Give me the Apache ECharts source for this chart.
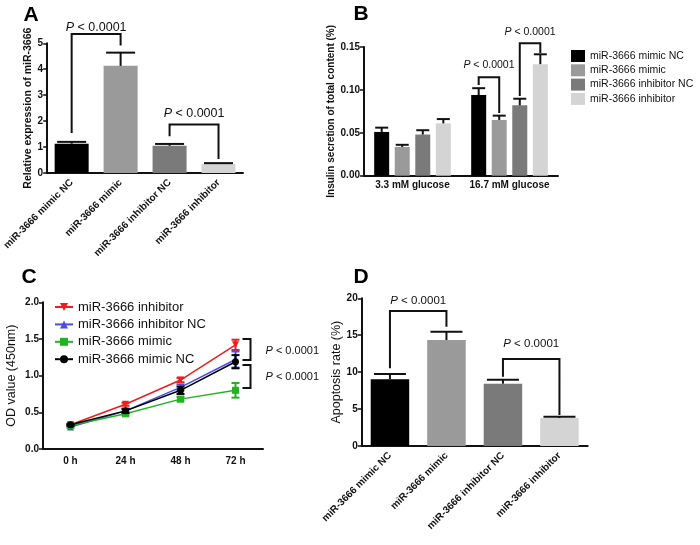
<!DOCTYPE html>
<html><head><meta charset="utf-8">
<script src="https://cdn.jsdelivr.net/npm/echarts@6/dist/echarts.min.js"></script>
<style>html,body{margin:0;padding:0;background:#fff}#c{width:700px;height:545px}</style>
</head><body><div id="c"></div>
<script>
// ---------- DATA ----------
const catsA = ['miR-3666 mimic NC', 'miR-3666 mimic', 'miR-3666 inhibitor NC', 'miR-3666 inhibitor'];
const valA = [1.13, 4.13, 1.05, 0.35];
const semA = [0.07, 0.51, 0.07, 0.03];
// [cat1, y1, cat2, y2, yTop, yText]
const bracketsA = [[0, 1.54, 1, 4.92, 5.36, 5.62], [2, 1.42, 3, 0.54, 1.87, 2.31]];

const catsB = ['3.3 mM glucose', '16.7 mM glucose'];
const namesB = ['miR-3666 mimic NC', 'miR-3666 mimic', 'miR-3666 inhibitor NC', 'miR-3666 inhibitor'];
const valB_mimicNC = [0.051, 0.094];
const valB_mimic = [0.0335, 0.065];
const valB_inhNC = [0.048, 0.082];
const valB_inh = [0.061, 0.130];
const semB_mimicNC = [0.005, 0.008];
const semB_mimic = [0.0025, 0.005];
const semB_inhNC = [0.005, 0.0077];
const semB_inh = [0.005, 0.0115];
// [cat, bar1, y1, bar2, y2, yTop, yText]
const bracketsB = [[1, 0, 0.1057, 1, 0.0731, 0.1147, 0.129], [1, 2, 0.0929, 3, 0.143, 0.1543, 0.1678]];

const catsC = ['0 h', '24 h', '48 h', '72 h'];
const namesC = ['miR-3666 inhibitor', 'miR-3666 inhibitor NC', 'miR-3666 mimic', 'miR-3666 mimic NC'];
const valC_inh = [0.33, 0.61, 0.94, 1.42];
const valC_inhNC = [0.30, 0.52, 0.84, 1.22];
const valC_mimic = [0.32, 0.48, 0.68, 0.80];
const valC_mimicNC = [0.33, 0.52, 0.80, 1.19];
const semC_inh = [0.01, 0.02, 0.03, 0.07];
const semC_inhNC = [0.01, 0.02, 0.04, 0.11];
const semC_mimic = [0.01, 0.02, 0.03, 0.10];
const semC_mimicNC = [0.01, 0.03, 0.05, 0.09];
// [cat, yTop, yBottom, yText]
const bracketsC = [[3, 1.50, 1.213, 1.336], [3, 1.145, 0.83, 0.986]];

const catsD = ['miR-3666 mimic NC', 'miR-3666 mimic', 'miR-3666 inhibitor NC', 'miR-3666 inhibitor'];
const valD = [9.03, 14.35, 8.44, 3.79];
const semD = [0.72, 1.13, 0.54, 0.18];
const bracketsD = [[0, 10.52, 1, 16.15, 18.28, 19.67], [2, 9.38, 3, 4.2, 11.78, 13.9]];

const pText = 'P < 0.0001';

// ---------- STYLE ----------
const FF = '"Liberation Sans", Arial, sans-serif';
const grays = ['#000000', '#9a9a9a', '#7a7a7a', '#d4d4d4'];
const colC = ['#ee1c1c', '#4b4be6', '#22b322', '#000000'];
const symC = ['path://M0,0L10,0L5,9Z', 'triangle', 'rect', 'circle'];
const ink = '#111';
const BW_B = 15, GAP_B = 0.37;

function pLabel(fs) {
  const t = pText.replace(/^P/, '');
  return { text: '{i|P}' + t, rich: { i: { fontStyle: 'italic', fontSize: fs, fontFamily: FF, fill: ink } }, fontSize: fs, fontFamily: FF, fill: ink };
}

function xCat(grid, data, rotate, margin) {
  return { gridIndex: grid, type: 'category', data: data,
    axisLine: { lineStyle: { color: ink, width: 2 } },
    axisTick: { alignWithLabel: true, length: 4, lineStyle: { color: ink, width: 1.5 } },
    axisLabel: { rotate: rotate, margin: margin, interval: 0, fontSize: 10, fontWeight: 'bold', color: ink, fontFamily: FF } };
}
function yVal(grid, max, interval, dec, name, gap, nfs, nfw) {
  return { gridIndex: grid, type: 'value', min: 0, max: max, interval: interval,
    name: name, nameLocation: 'middle', nameGap: gap, nameRotate: 90,
    nameTextStyle: { fontSize: nfs, fontWeight: nfw, fontFamily: FF, color: ink },
    axisLine: { show: true, lineStyle: { color: ink, width: 2 } },
    axisTick: { show: true, length: 4, lineStyle: { color: ink, width: 1.5 } },
    splitLine: { show: false },
    axisLabel: { margin: 4, fontSize: 10, fontWeight: 'bold', color: ink, fontFamily: FF,
      formatter: v => v.toFixed(dec) } };
}

function barErr(capW, offFn) {
  return function (params, api) {
    const c = api.value(0), v = api.value(1), e = api.value(2), s = api.value(3);
    const off = offFn ? offFn(s) : 0;
    const p0 = api.coord([c, v]), p1 = api.coord([c, e]);
    const x = p0[0] + off;
    const st = { stroke: ink, lineWidth: 2 };
    return { type: 'group', children: [
      { type: 'line', shape: { x1: x, y1: p0[1], x2: x, y2: p1[1] }, style: st },
      { type: 'line', shape: { x1: x - capW / 2, y1: p1[1], x2: x + capW / 2, y2: p1[1] }, style: st }
    ] };
  };
}
function lineErr(color) {
  return function (params, api) {
    const c = api.value(0), lo = api.value(1), hi = api.value(2);
    const p0 = api.coord([c, lo]), p1 = api.coord([c, hi]);
    const st = { stroke: color, lineWidth: 2 };
    const w = 4;
    return { type: 'group', children: [
      { type: 'line', shape: { x1: p0[0], y1: p0[1], x2: p1[0], y2: p1[1] }, style: st },
      { type: 'line', shape: { x1: p0[0] - w, y1: p0[1], x2: p0[0] + w, y2: p0[1] }, style: st },
      { type: 'line', shape: { x1: p1[0] - w, y1: p1[1], x2: p1[0] + w, y2: p1[1] }, style: st }
    ] };
  };
}
function bracketAD(fs) {
  return function (params, api) {
    const c1 = api.value(0), y1 = api.value(1), c2 = api.value(2), y2 = api.value(3), yt = api.value(4), ytx = api.value(5);
    const a = api.coord([c1, y1]), b = api.coord([c1, yt]), c = api.coord([c2, yt]), d = api.coord([c2, y2]);
    const ty = api.coord([c1, ytx])[1];
    return { type: 'group', children: [
      { type: 'polyline', shape: { points: [a, b, c, d] }, style: { stroke: ink, lineWidth: 2, fill: null } },
      { type: 'text', x: (b[0] + c[0]) / 2, y: ty, style: Object.assign(pLabel(fs), { align: 'center', verticalAlign: 'middle' }) }
    ] };
  };
}
const offB = s => (s - 1.5) * BW_B * (1 + GAP_B);
function bracketB(fs) {
  return function (params, api) {
    const cat = api.value(0), s1 = api.value(1), y1 = api.value(2), s2 = api.value(3), y2 = api.value(4), yt = api.value(5), ytx = api.value(6);
    const a = api.coord([cat, y1]), b = api.coord([cat, yt]), d = api.coord([cat, y2]);
    const x1 = a[0] + offB(s1), x2 = a[0] + offB(s2);
    const ty = api.coord([cat, ytx])[1];
    return { type: 'group', children: [
      { type: 'polyline', shape: { points: [[x1, a[1]], [x1, b[1]], [x2, b[1]], [x2, d[1]]] }, style: { stroke: ink, lineWidth: 2, fill: null } },
      { type: 'text', x: (x1 + x2) / 2, y: ty, style: Object.assign(pLabel(fs), { align: 'center', verticalAlign: 'middle' }) }
    ] };
  };
}
function bracketC(fs) {
  return function (params, api) {
    const cat = api.value(0), yt = api.value(1), yb = api.value(2), ytx = api.value(3);
    const a = api.coord([cat, yt]), b = api.coord([cat, yb]);
    const xa = a[0] + 7, xb = a[0] + 15;
    const ty = api.coord([cat, ytx])[1];
    return { type: 'group', children: [
      { type: 'polyline', shape: { points: [[xa, a[1]], [xb, a[1]], [xb, b[1]], [xa, b[1]]] }, style: { stroke: ink, lineWidth: 2, fill: null } },
      { type: 'text', x: a[0] + 30, y: ty, style: Object.assign(pLabel(fs), { align: 'left', verticalAlign: 'middle' }) }
    ] };
  };
}

const valsB = [valB_mimicNC, valB_mimic, valB_inhNC, valB_inh];
const semsB = [semB_mimicNC, semB_mimic, semB_inhNC, semB_inh];
const valsC = [valC_inh, valC_inhNC, valC_mimic, valC_mimicNC];
const semsC = [semC_inh, semC_inhNC, semC_mimic, semC_mimicNC];

const series = [];
// A
series.push({ type: 'bar', xAxisIndex: 0, yAxisIndex: 0, barWidth: 34,
  data: valA.map((v, i) => ({ value: v, itemStyle: { color: grays[i] } })) });
series.push({ type: 'custom', xAxisIndex: 0, yAxisIndex: 0, renderItem: barErr(29), z: 3,
  data: valA.map((v, i) => [i, v, v + semA[i], 0]) });
series.push({ type: 'custom', xAxisIndex: 0, yAxisIndex: 0, renderItem: bracketAD(12.5), z: 4, data: bracketsA });
// B
valsB.forEach((vals, s) => {
  series.push({ type: 'bar', name: namesB[s], xAxisIndex: 1, yAxisIndex: 1, barWidth: BW_B, barGap: (GAP_B * 100) + '%',
    itemStyle: { color: grays[s] }, data: vals });
});
series.push({ type: 'custom', xAxisIndex: 1, yAxisIndex: 1, renderItem: barErr(13, offB), z: 3,
  data: valsB.flatMap((vals, s) => vals.map((v, c) => [c, v, v + semsB[s][c], s])) });
series.push({ type: 'custom', xAxisIndex: 1, yAxisIndex: 1, renderItem: bracketB(10.5), z: 4, data: bracketsB });
// C
valsC.forEach((vals, s) => {
  series.push({ type: 'line', name: 'C|' + namesC[s], xAxisIndex: 2, yAxisIndex: 2, data: vals,
    symbol: symC[s], symbolSize: 7, itemStyle: { color: colC[s] }, lineStyle: { color: colC[s], width: 1.5 }, z: 3 + s * 0.1 });
  series.push({ type: 'custom', xAxisIndex: 2, yAxisIndex: 2, renderItem: lineErr(colC[s]), z: 3 + s * 0.1,
    data: vals.map((v, c) => [c, v - semsC[s][c], v + semsC[s][c]]) });
});
series.push({ type: 'custom', xAxisIndex: 2, yAxisIndex: 2, renderItem: bracketC(11), z: 4, data: bracketsC });
// D
series.push({ type: 'bar', xAxisIndex: 3, yAxisIndex: 3, barWidth: 38.5,
  data: valD.map((v, i) => ({ value: v, itemStyle: { color: grays[i] } })) });
series.push({ type: 'custom', xAxisIndex: 3, yAxisIndex: 3, renderItem: barErr(32), z: 3,
  data: valD.map((v, i) => [i, v, v + semD[i], 0]) });
series.push({ type: 'custom', xAxisIndex: 3, yAxisIndex: 3, renderItem: bracketAD(11.5), z: 4, data: bracketsD });

const letter = (t, x, y) => ({ type: 'text', x: x, y: y,
  style: { text: t, fontSize: 21, fontWeight: 'bold', fontFamily: FF, fill: '#000', align: 'center', verticalAlign: 'middle' } });

const option = {
  animation: false,
  backgroundColor: '#fff',
  grid: [
    { left: 47, top: 43.3, width: 196, height: 129.7 },
    { left: 364, top: 47, width: 194, height: 128.7 },
    { left: 43, top: 302.3, width: 220, height: 146.7 },
    { left: 361.7, top: 298.3, width: 226, height: 147.7 }
  ],
  xAxis: [
    xCat(0, catsA, 45, 8),
    xCat(1, catsB, 0, 5),
    Object.assign(xCat(2, catsC, 0, 7), { boundaryGap: true }),
    xCat(3, catsD, 45, 8)
  ],
  yAxis: [
    yVal(0, 5, 1, 0, 'Relative expression of miR-3666', 14, 10.5, 'bold'),
    yVal(1, 0.15, 0.05, 2, 'Insulin secretion of total content (%)', 25, 10, 'bold'),
    yVal(2, 2.0, 0.5, 1, 'OD value (450nm)', 25, 12.5, 'normal'),
    yVal(3, 20, 5, 0, 'Apoptosis rate (%)', 18, 12.5, 'normal')
  ],
  legend: [
    { data: namesB, orient: 'vertical', left: 566, top: 45, itemWidth: 14, itemHeight: 12, itemGap: 2.3,
      icon: 'rect', selectedMode: false, textStyle: { fontSize: 10.5, fontFamily: FF, color: ink, lineHeight: 12 } },
    { data: namesC.map(n => 'C|' + n), orient: 'vertical', left: 49, top: 295, itemWidth: 18, itemHeight: 10, itemGap: 3.4,
      selectedMode: false, formatter: n => n.replace(/^C\|/, ''),
      textStyle: { fontSize: 13, fontFamily: FF, color: ink, lineHeight: 14 } }
  ],
  graphic: [letter('A', 31, 15), letter('B', 361, 14), letter('C', 29, 277), letter('D', 361, 277)],
  series: series
};
echarts.init(document.getElementById('c')).setOption(option);
</script>
</body></html>
